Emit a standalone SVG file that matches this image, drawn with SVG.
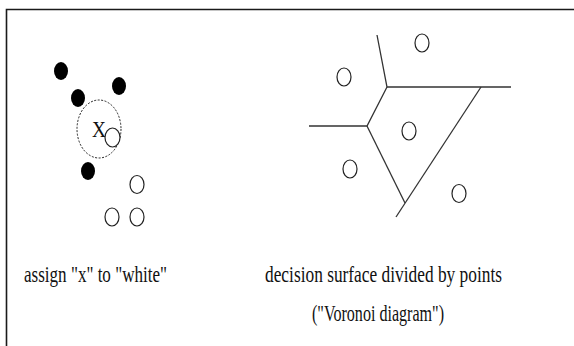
<svg xmlns="http://www.w3.org/2000/svg" width="574" height="346" viewBox="0 0 574 346">
<style>
.frame{fill:none;stroke:#1a1a1a;stroke-width:1.6}
.blk{fill:#000}
.wht{fill:#fff;stroke:#222;stroke-width:1.2}
.edge{fill:none;stroke:#333;stroke-width:1.3}
.dash{fill:none;stroke:#222;stroke-width:1;stroke-dasharray:2 1.5}
.lbl{font-family:"Liberation Serif","Times New Roman",serif;fill:#111}
</style>
<rect width="574" height="346" fill="#fff"/>
<path class="frame" d="M6.5 346 V9.5 H574"/>
<g id="knn">
<ellipse class="blk" cx="61" cy="71" rx="7" ry="9"/>
<ellipse class="blk" cx="119" cy="86" rx="7" ry="9"/>
<ellipse class="blk" cx="78" cy="98" rx="7" ry="9"/>
<ellipse class="blk" cx="88" cy="171" rx="7" ry="9"/>
<ellipse class="dash" cx="99" cy="129" rx="22" ry="29"/>
<text class="lbl" x="92" y="137" font-size="23" textLength="14" lengthAdjust="spacingAndGlyphs">X</text>
<ellipse class="wht" cx="112.5" cy="137.5" rx="7.5" ry="9.5"/>
<ellipse class="wht" cx="137" cy="184.5" rx="7" ry="9"/>
<ellipse class="wht" cx="112" cy="217" rx="7" ry="9"/>
<ellipse class="wht" cx="137" cy="217" rx="7" ry="9"/>
</g>
<g id="voronoi-edges">
<path class="edge" d="M377 35 L387 87 L511 87"/>
<path class="edge" d="M387 87 L367 126 L309 126"/>
<path class="edge" d="M367 126 L405 203"/>
<path class="edge" d="M481 87 L396 217"/>
</g>
<g id="voronoi-sites">
<ellipse class="wht" cx="422" cy="43" rx="7" ry="9"/>
<ellipse class="wht" cx="344" cy="77" rx="7" ry="9"/>
<ellipse class="wht" cx="409" cy="131" rx="7" ry="9"/>
<ellipse class="wht" cx="350" cy="169" rx="7" ry="9"/>
<ellipse class="wht" cx="459" cy="193.5" rx="7" ry="9"/>
</g>
<g id="labels">
<text class="lbl" x="24" y="282" font-size="23" textLength="143" lengthAdjust="spacingAndGlyphs">assign "x" to "white"</text>
<text class="lbl" x="265" y="282" font-size="23" textLength="237" lengthAdjust="spacingAndGlyphs">decision surface divided by points</text>
<text class="lbl" x="312" y="321" font-size="23" textLength="132" lengthAdjust="spacingAndGlyphs">("Voronoi diagram")</text>
</g>
</svg>
